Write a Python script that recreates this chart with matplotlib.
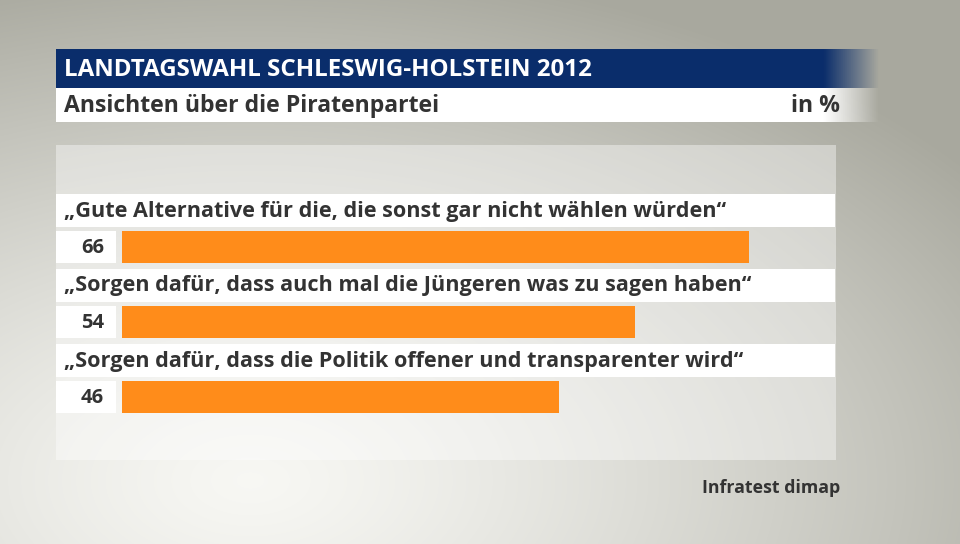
import numpy as np
import matplotlib.pyplot as plt
from matplotlib.patches import Rectangle

plt.rcParams['font.family'] = ['Open Sans', 'DejaVu Sans']

# Daten
labels = ["„Gute Alternative für die, die sonst gar nicht wählen würden“",
          "„Sorgen dafür, dass auch mal die Jüngeren was zu sagen haben“",
          "„Sorgen dafür, dass die Politik offener und transparenter wird“"]
values = [66, 54, 46]

title = "LANDTAGSWAHL SCHLESWIG-HOLSTEIN 2012"
subtitle = "Ansichten über die Piratenpartei"
unit = "in %"
source = "Infratest dimap"

W, H = 960, 544
fig = plt.figure(figsize=(W / 100, H / 100), dpi=100)

# Hintergrund mit Verlauf
bg = fig.add_axes([0, 0, 1, 1])
bg.set_xlim(0, W)
bg.set_ylim(H, 0)
bg.axis('off')
yy, xx = np.mgrid[0:H, 0:W]
d = np.sqrt(((xx - 250) / 900) ** 2 + ((yy - 480) / 520) ** 2)
d = np.clip(d, 0, 1)
light = np.array([0.97, 0.97, 0.955])
dark = np.array([0.66, 0.66, 0.62])
img = light + (dark - light) * d[..., None] ** 1.3
bg.imshow(img, extent=[0, W, H, 0], aspect='auto', zorder=0)

# hellere Fläche hinter den Balken
bg.add_patch(Rectangle((56, 145), 780, 315, color='white', alpha=0.4, lw=0, zorder=1))

# Titelbalken mit Ausblendung rechts
def fade_bar(x0, x1, xf, y0, y1, rgb):
    n = 400
    xs = np.linspace(x0, x1, n)
    a = np.clip((x1 - xs) / (x1 - xf), 0, 1)
    a = np.where(xs < xf, 1, a)
    arr = np.zeros((1, n, 4))
    arr[0, :, :3] = rgb
    arr[0, :, 3] = a
    bg.imshow(arr, extent=[x0, x1, y1, y0], aspect='auto', zorder=2)

fade_bar(56, 880, 825, 49, 88, (0.04, 0.18, 0.42))
fade_bar(56, 880, 825, 88, 122, (1, 1, 1))
bg.text(64, 70, title, color='white', fontsize=17.4, fontweight='bold', va='center', zorder=3)
bg.text(64, 106, subtitle, color='#333333', fontsize=16.6, fontweight='bold', va='center', zorder=3)
bg.text(840, 106, unit, color='#333333', fontsize=16.6, fontweight='bold', va='center', ha='right', zorder=3)
bg.text(840, 488, source, color='#333333', fontsize=12.8, fontweight='bold', va='center', ha='right', zorder=3)

# Balkenachse: 9.5 px je Prozentpunkt, Start bei x=122
row_top = 194
row_h = 75
px_per = 9.5
xmax = 70
ax = fig.add_axes([122 / W, 0, xmax * px_per / W, 1])
ax.set_xlim(0, xmax)
ax.set_ylim(H, 0)
ax.axis('off')
ax.patch.set_alpha(0)

ypos = [row_top + 37 + i * row_h for i in range(len(values))]
ax.barh([y + 16 for y in ypos], values, height=32, left=0, color='#ff8c1a', zorder=3)

for i, (lab, v) in enumerate(zip(labels, values)):
    y0 = row_top + i * row_h
    bg.add_patch(Rectangle((56, y0), 779, 33, color='white', lw=0, zorder=2))
    bg.text(64, y0 + 17, lab, color='#333333', fontsize=15.6, fontweight='bold', va='center', zorder=3)
    bg.add_patch(Rectangle((56, y0 + 37), 60, 32, color='white', lw=0, zorder=2))
    bg.text(104, y0 + 54, str(v), color='#333333', fontsize=14.5, fontweight='bold',
            va='center', ha='right', zorder=3)

fig.savefig('out.png', dpi=100)
